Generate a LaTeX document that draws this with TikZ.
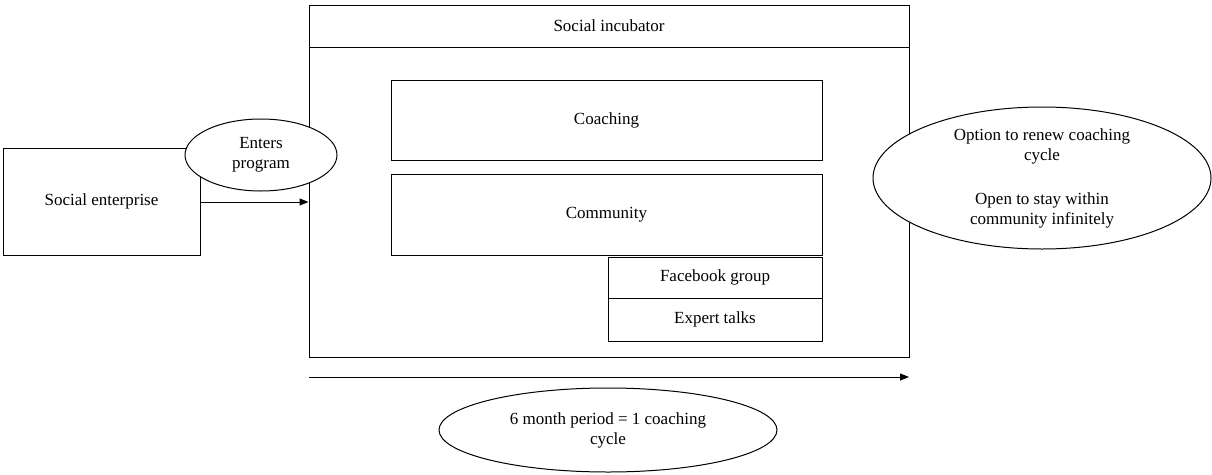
\documentclass[tikz,border=0pt]{standalone}
\usepackage{fontspec}
\setmainfont{Liberation Serif}
\usetikzlibrary{shapes.geometric,arrows.meta}
\begin{document}
\begin{tikzpicture}[x=1pt,y=-1pt,line width=1pt,
  every node/.style={font=\fontsize{17}{20}\selectfont},
  box/.style={draw,rectangle,inner sep=0pt,align=center},
  oval/.style={draw,ellipse,fill=white,inner sep=0pt,align=center},
  flow/.style={-{Triangle[length=9pt,width=7pt]}}]
\useasboundingbox (0,0) rectangle (1212,474);

% incubator frame with its header band
\node[box,minimum width=600pt,minimum height=352pt] (inc) at (609,181) {};
\node[box,minimum width=600pt,minimum height=42pt] (head) at (609,26) {Social incubator};

% programme components
\node[box,minimum width=431pt,minimum height=80pt] (coach) at (606.5,120) {Coaching};
\node[box,minimum width=431pt,minimum height=81pt] (comm) at (606.5,214.5) {Community};
\node[box,minimum width=214pt,minimum height=41pt] (fb) at (715,277.5) {Facebook group};
\node[box,minimum width=214pt,minimum height=43pt] (talks) at (715,319.5) {Expert talks};

% the enterprise entering the programme
\node[box,minimum width=197pt,minimum height=107pt] (se) at (101.5,201.5) {Social enterprise};
\draw[flow] (se.east |- 0,202) -- (inc.west |- 0,202);
\node[oval,minimum width=152pt,minimum height=72pt] (enter) at (261,155) {Enters\\program};

% outcome after a cycle
\node[oval,minimum width=338pt,minimum height=142pt] (out) at (1042,178)
  {Option to renew coaching\\cycle\\[24pt]Open to stay within\\community infinitely};

% timeline
\coordinate (t0) at (309,377);
\coordinate (t1) at (909,377);
\draw[flow] (t0) -- (t1);
\node[oval,minimum width=338pt,minimum height=84pt] (cycle) at (608,430)
  {6 month period = 1 coaching\\cycle};
\end{tikzpicture}
\end{document}
